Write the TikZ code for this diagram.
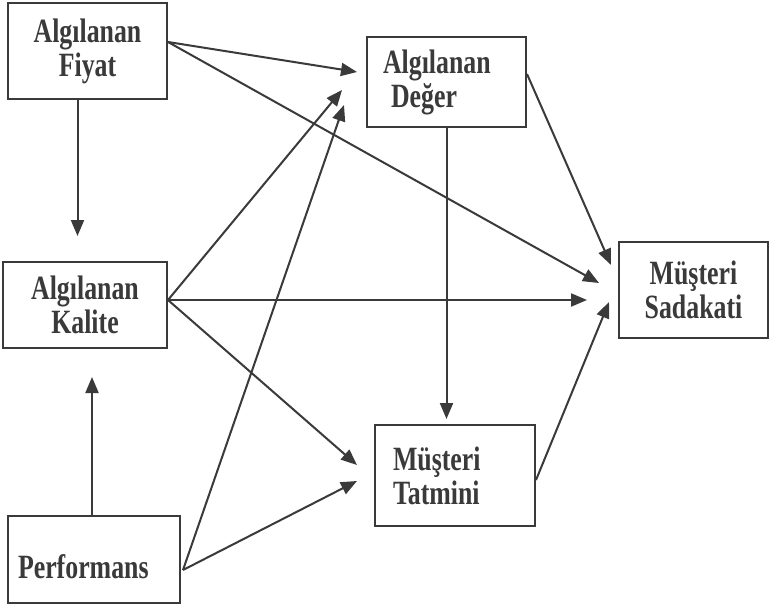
\documentclass[tikz,border=0pt]{standalone}
\usepackage{fontspec}
\newfontfamily\boxfont{Liberation Serif}[FakeStretch=0.76]
\usetikzlibrary{arrows.meta}
\definecolor{inkgray}{HTML}{3A3A3A}

\begin{document}
\begin{tikzpicture}[x=1pt,y=-1pt,->,>={Triangle[length=16pt,width=13pt]},line width=2pt,color=inkgray]
          \useasboundingbox[fill=white] (0,0) rectangle (771,610);
          \tikzstyle{box}=[draw=inkgray,line width=2pt,text=inkgray,inner sep=0pt,align=center,
                           font=\boxfont\bfseries\fontsize{34}{34}\selectfont]
          \node[box,minimum width=159pt,minimum height=96pt]  (fiyat)   at (87.5,51)   {Algılanan\\Fiyat};
          \node[box,text width=127pt,inner xsep=16pt,align=left,minimum height=90pt]
                                                              (deger)   at (446.5,82)  {Algılanan\\\hspace*{8pt}Değer};
          \node[box,minimum width=164pt,minimum height=86pt]  (kalite)  at (85,305)    {Algılanan\\Kalite};
          \node[box,text width=124pt,inner xsep=18pt,align=left,minimum height=101pt]
                                                              (tatmin)  at (455,475.5) {Müşteri\\Tatmini};
          \node[box,text width=152pt,inner xsep=10pt,align=left,minimum height=87pt,text height=44pt,text depth=7pt]
                                                              (perf)    at (94,559.5)  {Performans};
          \node[box,minimum width=149pt,minimum height=96pt]  (sadakat) at (693.5,290) {Müşteri\\Sadakati};

          \path ([yshift=9pt]fiyat.east)   edge ([xshift=-9pt,yshift=10pt]deger.west)
                                           edge ([xshift=-19pt,yshift=7pt]sadakat.west)
                ([xshift=-10pt]fiyat.south) edge [shorten >=25pt] ([xshift=-7.5pt]kalite.north)
                ([yshift=5pt]kalite.east)  edge ([xshift=-24pt,yshift=-8pt]deger.west)
                                           edge [shorten >=31pt] ([yshift=-10pt]sadakat.west)
                                           edge ([xshift=-17pt,yshift=10.5pt]tatmin.west)
                ([xshift=-2pt]perf.north)  edge [shorten >=28pt] ([xshift=7pt]kalite.south)
                ([xshift=2pt,yshift=-10.5pt]perf.east) edge ([xshift=-22pt,yshift=-23pt]deger.west)
                                           edge ([xshift=-17pt,yshift=-5.5pt]tatmin.west)
                (deger.south)              edge [shorten >=5pt] ([xshift=-8.5pt]tatmin.north)
                ([yshift=8pt]deger.east)   edge ([xshift=-7pt,yshift=25pt]sadakat.west)
                ([yshift=-4.5pt]tatmin.east) edge ([xshift=-9pt,yshift=-12pt]sadakat.west);
        \end{tikzpicture}
\end{document}
